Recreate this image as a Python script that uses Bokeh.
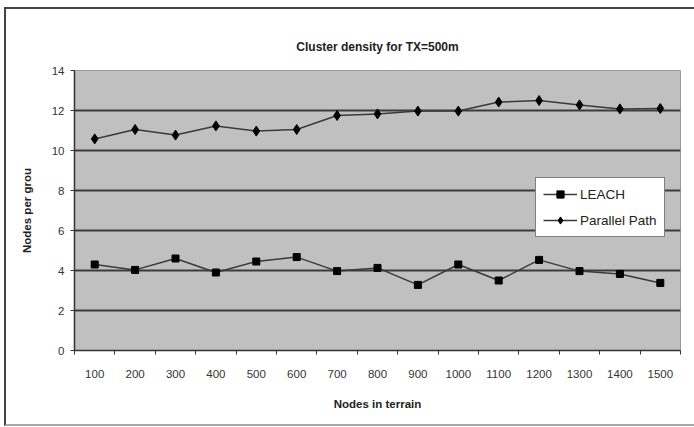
from bokeh.plotting import figure
from bokeh.models import FixedTicker, Legend, LegendItem, Range1d, InlineStyleSheet
from bokeh.embed import file_html
from bokeh.resources import INLINE

nodes = [100, 200, 300, 400, 500, 600, 700, 800, 900, 1000, 1100, 1200, 1300, 1400, 1500]
leach = [4.3, 4.03, 4.6, 3.9, 4.45, 4.67, 3.97, 4.13, 3.28, 4.3, 3.5, 4.53, 3.97, 3.83, 3.38]
parallel_path = [10.58, 11.05, 10.77, 11.23, 10.97, 11.05, 11.75, 11.83, 11.97, 11.97, 12.42, 12.5, 12.28, 12.08, 12.1]
y_ticks = [0, 2, 4, 6, 8, 10, 12, 14]

FONT = "Liberation Sans"

frame_css = InlineStyleSheet(css="""
:host { position: relative; }
:host::after {
  content: '';
  position: absolute;
  left: 4px; top: 7px; right: 0px; bottom: 1px;
  border-top: 2px solid #444444;
  border-left: 2px solid #444444;
  border-bottom: 2px solid #a8a8a8;
  pointer-events: none;
  z-index: 10;
}
""")

p = figure(width=694, height=427, output_backend="svg", toolbar_location=None,
           x_range=Range1d(50, 1550), y_range=Range1d(0, 14),
           frame_width=606, frame_height=280,
           min_border_left=74, min_border_right=14, min_border_top=70, min_border_bottom=77,
           stylesheets=[frame_css])

p.background_fill_color = "#c0c0c0"
p.border_fill_color = "white"
p.outline_line_color = "#9a9a9a"
p.outline_line_width = 1

p.title.text = "Cluster density for TX=500m"
p.title.align = "center"
p.title.text_font = FONT
p.title.text_font_size = "12px"
p.title.text_font_style = "bold"
p.title.text_color = "#222222"
p.title.standoff = 34

# x axis
p.xaxis.ticker = FixedTicker(ticks=nodes, minor_ticks=[n - 50 for n in nodes] + [nodes[-1] + 50])
p.xaxis.major_tick_out = 0
p.xaxis.major_tick_in = 0
p.xaxis.minor_tick_out = 4
p.xaxis.minor_tick_in = 0
p.xaxis.minor_tick_line_color = "#333333"
p.xaxis.major_label_standoff = 15
p.xaxis.axis_label = "Nodes in terrain"
p.xaxis.axis_label_standoff = 17

# y axis
p.yaxis.ticker = FixedTicker(ticks=y_ticks, minor_ticks=[])
p.yaxis.major_tick_out = 4
p.yaxis.major_tick_in = 0
p.yaxis.axis_label = "Nodes per grou"
p.yaxis.axis_label_standoff = 16
p.yaxis.major_label_standoff = 6

for ax in (p.xaxis, p.yaxis):
    ax.axis_line_color = "#333333"
    ax.axis_line_width = 1.5
    ax.major_tick_line_color = "#333333"
    ax.major_label_text_font = FONT
    ax.major_label_text_font_size = "11.5px"
    ax.major_label_text_color = "#333333"
    ax.axis_label_text_font = FONT
    ax.axis_label_text_font_size = "11.5px"
    ax.axis_label_text_font_style = "bold"
    ax.axis_label_text_color = "#222222"

p.xgrid.visible = False
p.ygrid.grid_line_color = "#3c3c3c"
p.ygrid.grid_line_width = 2

l1 = p.line(nodes, leach, line_color="#3a3a3a", line_width=1.5)
m1 = p.scatter(nodes, leach, marker="square", size=7, fill_color="black", line_color="black")
l2 = p.line(nodes, parallel_path, line_color="#3a3a3a", line_width=1.5)
m2 = p.scatter(nodes, parallel_path, marker="diamond", size=10, fill_color="black", line_color="black")

legend = Legend(items=[LegendItem(label="LEACH", renderers=[l1, m1]),
                       LegendItem(label="Parallel Path", renderers=[l2, m2])],
                location=(461, 113))
legend.label_text_font = FONT
legend.label_text_font_size = "13.5px"
legend.label_text_color = "#222222"
legend.border_line_color = "black"
legend.border_line_width = 1
legend.background_fill_color = "white"
legend.background_fill_alpha = 1
legend.glyph_width = 34
legend.glyph_height = 18
legend.label_standoff = 3
legend.padding = 7
legend.spacing = 8
legend.margin = 0
p.add_layout(legend, "center")

open("out.html", "w").write(file_html(p, INLINE))
